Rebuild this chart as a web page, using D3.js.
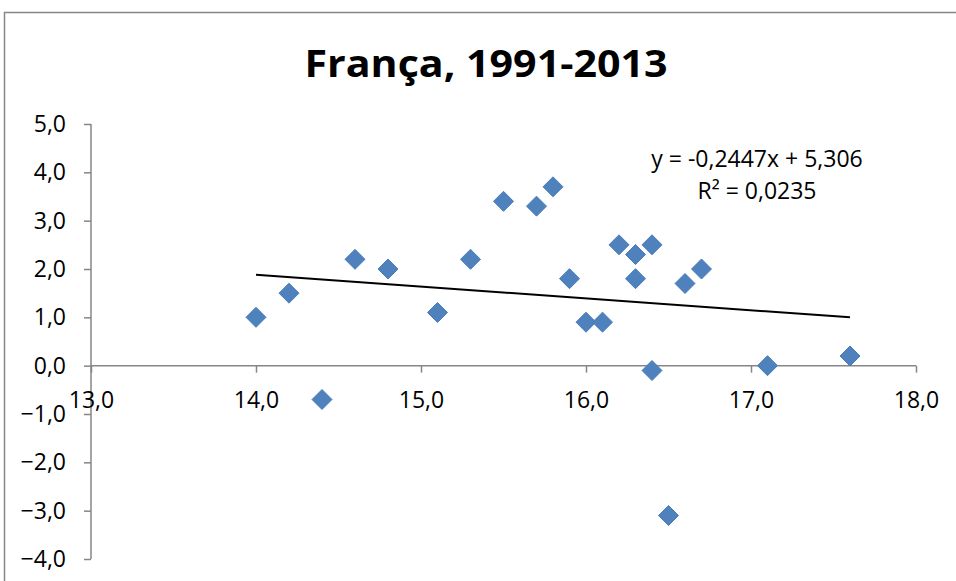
<!DOCTYPE html>
<html>
<head>
<meta charset="utf-8">
<script src="https://cdn.jsdelivr.net/npm/d3@7"></script>
<style>
  html, body { margin: 0; padding: 0; background: #fff; }
  svg { display: block; }
  text { font-family: "Open Sans", "Noto Sans", sans-serif; fill: #000; }
</style>
</head>
<body>
<svg id="chart" width="956" height="581"></svg>
<script>
// ---- Data ----
const xValues = [14.0, 14.2, 14.4, 14.6, 14.8, 15.1, 15.3, 15.5, 15.7, 15.8, 15.9, 16.0,
                 16.1, 16.2, 16.3, 16.3, 16.4, 16.4, 16.5, 16.6, 16.7, 17.1, 17.6];
const yValues = [1.0, 1.5, -0.7, 2.2, 2.0, 1.1, 2.2, 3.4, 3.3, 3.7, 1.8, 0.9,
                 0.9, 2.5, 2.3, 1.8, 2.5, -0.1, -3.1, 1.7, 2.0, 0.0, 0.2];
const xTicks = [13, 14, 15, 16, 17, 18];
const yTicks = [-4, -3, -2, -1, 0, 1, 2, 3, 4, 5];
const trendSlope = -0.2447;
const trendIntercept = 5.306;
const titleText = "França, 1991-2013";
const equationLines = ["y = -0,2447x + 5,306", "R² = 0,0235"];

// ---- Setup ----
const svg = d3.select("#chart");
const locale = d3.formatLocale({decimal: ",", thousands: ".", grouping: [3], currency: ["", ""]});
const fmt = locale.format(".1f");

const x = d3.scaleLinear().domain([13, 18]).range([91, 916]);
const y = d3.scaleLinear().domain([-4, 5]).range([559, 124]);

const axisColor = "#868686";
const labelSize = 23;

// chart border
svg.append("rect")
  .attr("x", 4.5).attr("y", 12.5)
  .attr("width", 1000).attr("height", 1000)
  .attr("fill", "none").attr("stroke", axisColor).attr("stroke-width", 1.5);

// title
svg.append("text")
  .attr("x", 486).attr("y", 77)
  .attr("text-anchor", "middle")
  .attr("font-size", 38).attr("font-weight", "bold")
  .attr("textLength", 363).attr("lengthAdjust", "spacingAndGlyphs")
  .text(titleText);

// y axis
const yAxis = svg.append("g")
  .attr("transform", `translate(${x(13)},0)`)
  .call(d3.axisLeft(y).tickValues(yTicks).tickFormat(fmt).tickSize(7).tickPadding(18));
yAxis.selectAll("path, line").attr("stroke", axisColor).attr("stroke-width", 1.5);
yAxis.select(".domain").attr("d", `M0,${y(-4)}V${y(5)}`);
yAxis.selectAll("text").attr("font-size", labelSize).style("font-family", "'Open Sans', sans-serif").attr("fill", "#000");

// x axis at y = 0
const xAxis = svg.append("g")
  .attr("transform", `translate(0,${y(0)})`)
  .call(d3.axisBottom(x).tickValues(xTicks).tickFormat(fmt).tickSize(7).tickPadding(19));
xAxis.selectAll("path, line").attr("stroke", axisColor).attr("stroke-width", 1.5);
xAxis.select(".domain").attr("d", `M${x(13)},0H${x(18)}`);
xAxis.selectAll("text").attr("font-size", labelSize).style("font-family", "'Open Sans', sans-serif").attr("fill", "#000");

// trendline over data range
const xMin = d3.min(xValues), xMax = d3.max(xValues);
const trend = [xMin, xMax].map(v => [v, trendSlope * v + trendIntercept]);
svg.append("path")
  .datum(trend)
  .attr("d", d3.line().x(d => x(d[0])).y(d => y(d[1])))
  .attr("fill", "none").attr("stroke", "#000").attr("stroke-width", 2);

// diamond markers
const data = xValues.map((v, i) => ({x: v, y: yValues[i]}));
const r = 10;
svg.append("g").selectAll("path")
  .data(data).enter().append("path")
  .attr("d", d => {
    const cx = x(d.x), cy = y(d.y);
    return `M${cx},${cy - r}L${cx + r},${cy}L${cx},${cy + r}L${cx - r},${cy}Z`;
  })
  .attr("fill", "#4F81BD").attr("stroke", "#4A7EBB").attr("stroke-width", 1);

// equation label
svg.append("text")
  .attr("x", 757).attr("y", 167)
  .attr("text-anchor", "middle").attr("font-size", labelSize)
  .text(equationLines[0]);
svg.append("text")
  .attr("x", 757).attr("y", 199)
  .attr("text-anchor", "middle").attr("font-size", labelSize)
  .text(equationLines[1]);
</script>
</body>
</html>
